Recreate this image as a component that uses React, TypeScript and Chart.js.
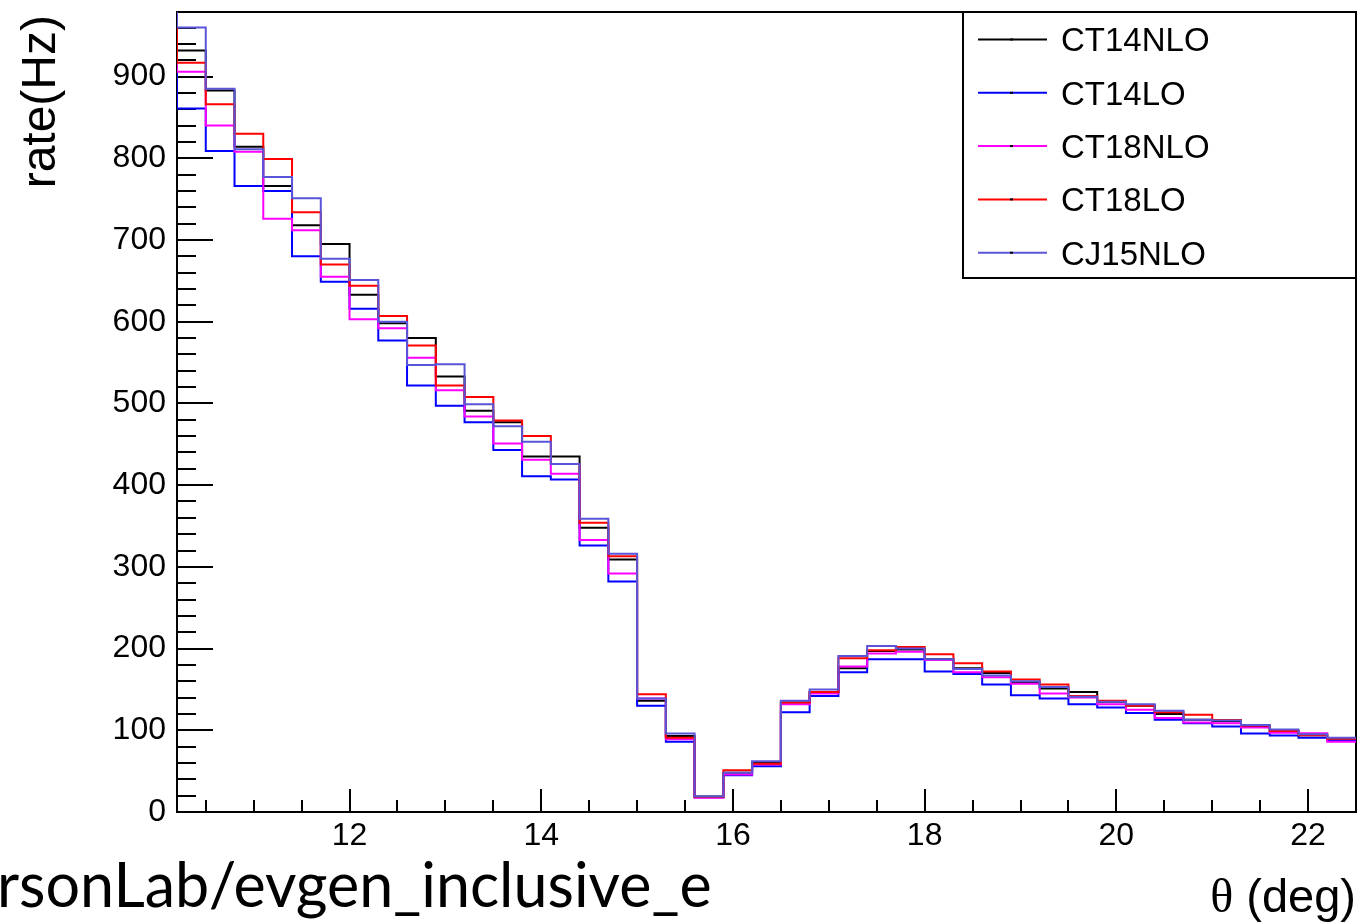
import React, { useEffect, useRef } from 'react';
import { Chart, registerables } from 'chart.js';

Chart.register(...registerables);

// ---------- data ----------
const binEdges = [
  10.2, 10.5, 10.8, 11.1, 11.4, 11.7, 12.0, 12.3, 12.6, 12.9, 13.2, 13.5, 13.8, 14.1,
  14.4, 14.7, 15.0, 15.3, 15.6, 15.9, 16.2, 16.5, 16.8, 17.1, 17.4, 17.7, 18.0, 18.3,
  18.6, 18.9, 19.2, 19.5, 19.8, 20.1, 20.4, 20.7, 21.0, 21.3, 21.6, 21.9, 22.2, 22.5,
];
const underflowEdge = 9.9;

const seriesNames = ['CT14NLO', 'CT14LO', 'CT18NLO', 'CT18LO', 'CJ15NLO'];
const seriesColors = ['#000000', '#0000ff', '#ff00ff', '#ff0000', '#5954d8'];

const ct14nlo = [
  932, 883, 814, 766, 718, 695, 633, 598, 580, 533, 491, 477, 435, 435, 348, 309, 136, 93, 19,
  48, 61, 134, 147, 176, 197, 199, 187, 176, 170, 159, 151, 147, 135, 130, 120, 113, 111, 105,
  99, 94, 90,
];
const ct14lo = [
  861, 809, 766, 760, 680, 649, 616, 577, 522, 497, 477, 443, 411, 407, 326, 282, 130, 86, 18,
  45, 56, 122, 142, 171, 187, 187, 172, 169, 156, 143, 139, 132, 128, 121, 113, 108.5, 104.5, 96,
  93.5, 91, 87.5,
];
const ct18nlo = [
  906, 840, 808, 726, 712, 655, 603, 592, 556, 516, 484, 451, 431, 414, 333, 292, 139, 89, 17.5,
  46, 58, 132, 145, 178, 194, 196, 186, 171, 165, 157, 145, 140, 132, 125, 115, 109.5, 108.6,
  103.5, 97, 96.3, 86,
];
const ct18lo = [
  917, 866, 830, 799, 734, 670, 644, 607, 571, 522, 508, 479, 460, 426, 354, 313, 144, 91, 18.5,
  51, 59, 134, 147, 188, 198, 202, 193, 182, 172, 162, 156, 142, 136, 130, 122, 119, 112.6, 106,
  99, 94, 89.5,
];
const cj15nlo = [
  960, 885, 811, 777, 751, 677, 651, 600, 547, 548, 499, 472, 453, 426, 359, 316, 139, 96, 19,
  48, 62, 136, 150, 191, 203, 200, 187, 175, 167, 160, 153, 141, 135, 132, 124, 113, 112, 106.5,
  101, 95, 91,
];
// bin just below the displayed range (off the top of the frame)
const underflowRates = [1000, 1000, 1000, 1000, 1000];

const xTickValues = [12, 14, 16, 18, 20, 22];
const yTickValues = [0, 100, 200, 300, 400, 500, 600, 700, 800, 900];
const xMinorStep = 0.5;
const yMinorStep = 20;
const xMin = 10.2;
const xMax = 22.5;
const yMin = 0;
const yMax = 979;

const yTitle = 'rate(Hz)';
const xTitleSymbol = 'θ';
const xTitleUnit = ' (deg)';
const pathLabel = 'rsonLab/evgen_inclusive_e';

const seriesValues = [ct14nlo, ct14lo, ct18nlo, ct18lo, cj15nlo];

const SANS = "'Liberation Sans', Arial, sans-serif";

function histPoints(values: number[], under: number) {
  const pts: { x: number; y: number }[] = [{ x: underflowEdge, y: under }];
  values.forEach((v, i) => pts.push({ x: binEdges[i], y: v }));
  pts.push({ x: binEdges[binEdges.length - 1], y: values[values.length - 1] });
  return pts;
}

const framePlugin = {
  id: 'rootFrame',
  beforeDatasetsDraw(chart: any) {
    const { ctx, chartArea: a, scales } = chart;
    const xs = scales.x;
    const ys = scales.y;
    ctx.save();
    ctx.strokeStyle = '#000';
    ctx.lineWidth = 2;
    ctx.strokeRect(a.left, a.top, a.right - a.left, a.bottom - a.top);
    ctx.beginPath();
    for (let k = Math.ceil(xMin / xMinorStep); k * xMinorStep <= xMax + 1e-9; k++) {
      const v = k * xMinorStep;
      const major = xTickValues.some((t) => Math.abs(t - v) < 1e-9);
      const px = Math.round(xs.getPixelForValue(v));
      ctx.moveTo(px, a.bottom);
      ctx.lineTo(px, a.bottom - (major ? 23 : 12));
    }
    for (let k = 0; k * yMinorStep <= yMax; k++) {
      const v = k * yMinorStep;
      const major = yTickValues.includes(v);
      const py = Math.round(ys.getPixelForValue(v));
      ctx.moveTo(a.left, py);
      ctx.lineTo(a.left + (major ? 36 : 19), py);
    }
    ctx.stroke();
    ctx.restore();
  },
  afterDatasetsDraw(chart: any) {
    const { ctx, chartArea: a } = chart;
    ctx.save();
    // legend box
    const lx1 = 963;
    const ly1 = a.top;
    const lx2 = a.right;
    const ly2 = 278;
    ctx.fillStyle = '#fff';
    ctx.fillRect(lx1, ly1, lx2 - lx1, ly2 - ly1);
    ctx.strokeStyle = '#000';
    ctx.lineWidth = 2;
    ctx.strokeRect(lx1, ly1, lx2 - lx1, ly2 - ly1);
    ctx.font = `33px ${SANS}`;
    ctx.textAlign = 'left';
    ctx.textBaseline = 'alphabetic';
    seriesNames.forEach((name, i) => {
      const y = 39.5 + i * 53.3;
      ctx.strokeStyle = seriesColors[i];
      ctx.lineWidth = 2;
      ctx.beginPath();
      ctx.moveTo(978, y);
      ctx.lineTo(1047, y);
      ctx.stroke();
      ctx.fillStyle = '#000';
      ctx.fillRect(1010, y - 1, 3, 2);
      ctx.fillText(name, 1061, y + 11.8);
    });
    ctx.restore();
  },
  afterDraw(chart: any) {
    const { ctx, chartArea: a } = chart;
    ctx.save();
    ctx.fillStyle = '#000';
    // y title
    ctx.save();
    ctx.translate(55, 15);
    ctx.rotate(-Math.PI / 2);
    ctx.font = `48px ${SANS}`;
    ctx.textAlign = 'right';
    ctx.textBaseline = 'alphabetic';
    ctx.fillText(yTitle, 0, 0);
    ctx.restore();
    // x title
    ctx.font = `47px ${SANS}`;
    ctx.textAlign = 'right';
    ctx.textBaseline = 'alphabetic';
    const unitW = ctx.measureText(xTitleUnit).width;
    ctx.fillText(xTitleUnit, a.right, 912);
    ctx.font = `48px 'Liberation Serif', 'DejaVu Serif', serif`;
    ctx.fillText(xTitleSymbol, a.right - unitW, 912);
    // path label
    ctx.font = `61px Lato, 'Open Sans', sans-serif`;
    ctx.textAlign = 'left';
    ctx.fillText(pathLabel, -3, 907);
    ctx.restore();
  },
};

export default function App() {
  const canvasRef = useRef<HTMLCanvasElement | null>(null);

  useEffect(() => {
    const canvas = canvasRef.current;
    if (!canvas) return;
    const datasets = seriesNames.map((name, i) => ({
      label: name,
      data: histPoints(seriesValues[i], underflowRates[i]),
      borderColor: seriesColors[i],
      backgroundColor: seriesColors[i],
      borderWidth: 2,
      pointRadius: 0,
      pointHoverRadius: 0,
      stepped: 'before' as const,
      fill: false,
      tension: 0,
      order: seriesNames.length - 1 - i,
    }));

    const chart = new Chart(canvas, {
      type: 'line',
      data: { datasets },
      plugins: [framePlugin],
      options: {
        responsive: false,
        maintainAspectRatio: false,
        animation: false,
        events: [],
        layout: { padding: { top: 12, right: 9, left: 0, bottom: 0 } },
        plugins: {
          legend: { display: false },
          tooltip: { enabled: false },
          title: { display: false },
        },
        scales: {
          x: {
            type: 'linear',
            min: xMin,
            max: xMax,
            afterBuildTicks: (scale: any) => {
              scale.ticks = xTickValues.map((v) => ({ value: v }));
            },
            afterFit: (scale: any) => {
              scale.height = 110;
              scale.paddingLeft = 0;
              scale.paddingRight = 0;
              scale.paddingTop = 0;
              scale.paddingBottom = 0;
            },
            grid: { drawOnChartArea: false, drawTicks: false },
            border: { display: false },
            ticks: {
              color: '#000',
              font: { family: SANS, size: 32 },
              padding: 5,
              maxRotation: 0,
              autoSkip: false,
              callback: (v: any) => String(v),
            },
          },
          y: {
            type: 'linear',
            min: yMin,
            max: yMax,
            afterBuildTicks: (scale: any) => {
              scale.ticks = yTickValues.map((v) => ({ value: v }));
            },
            afterFit: (scale: any) => {
              scale.width = 177;
              scale.paddingLeft = 0;
              scale.paddingRight = 0;
              scale.paddingTop = 0;
              scale.paddingBottom = 0;
            },
            grid: { drawOnChartArea: false, drawTicks: false },
            border: { display: false },
            ticks: {
              color: '#000',
              font: { family: SANS, size: 32 },
              padding: 11,
              autoSkip: false,
              callback: (v: any) => String(v),
            },
          },
        },
      },
    });
    return () => chart.destroy();
  }, []);

  return (
    <div
      style={{
        position: 'fixed',
        left: 0,
        top: 0,
        width: 1365,
        height: 922,
        background: '#fff',
        overflow: 'hidden',
      }}
    >
      <canvas ref={canvasRef} width={1365} height={922} style={{ display: 'block' }} />
    </div>
  );
}
